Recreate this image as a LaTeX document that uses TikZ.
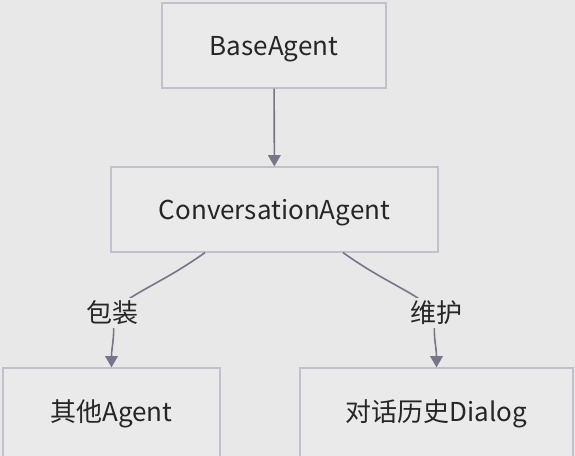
\documentclass[tikz,border=0pt]{standalone}
\usepackage{fontspec}
\setmainfont{Noto Sans CJK SC}
\usetikzlibrary{arrows.meta,calc}

\definecolor{canvas}{RGB}{232,232,232}
\definecolor{boxfill}{RGB}{234,234,234}
\definecolor{boxline}{RGB}{192,192,206}
\definecolor{edgeline}{RGB}{118,118,136}

\tikzset{every picture/.style={line width=0.75pt}}
\tikzset{
  classbox/.style={draw=boxline, fill=boxfill, line width=0.9pt, minimum height=63.75pt, inner sep=0pt,
    text height=19.5pt, text depth=4pt, font=\fontsize{19.5}{23}\selectfont, text=black!85},
  edge/.style={draw=edgeline, line width=1.2pt, -{Triangle[length=8.5pt,width=9.5pt]}},
  edgelbl/.style={fill=canvas, inner sep=2pt, font=\fontsize{19.5}{23}\selectfont, text=black!85}
}

\begin{document}
\begin{tikzpicture}[x=0.75pt,y=0.75pt,yscale=-1,xscale=1]
% canvas, set diagram at 575 x 456
\fill [canvas] (0,0) rectangle (575,456);
\useasboundingbox (0,0) rectangle (575,456);
\clip (0,0) rectangle (575,456);

% class boxes (sizes in pt = px * 0.75)
\node [classbox, minimum width=168pt] (base) at (274,45.5) {BaseAgent};
\node [classbox, minimum width=245.25pt] (conv) at (274.5,209.5) {ConversationAgent};
\node [classbox, minimum width=162.75pt, minimum height=67.5pt, text height=17pt] (other) at (111.5,413) {其他Agent};
\node [classbox, minimum width=204.75pt, minimum height=67.5pt, text height=17pt] (dialog) at (436.5,413) {对话历史Dialog};

% label points
\coordinate (wrapPt) at (112,313);
\coordinate (keepPt) at (436,313);

% connectors
\draw [edge] (base) -- (conv);
\draw [edge] ($(conv.south)+(-69.5,0)$) .. controls +(-45,32) and +(18,-20) .. (wrapPt) node [edgelbl] (wrapLbl) {包装}
  .. controls +(4,22) and +(0,-22) .. (other.north);
\draw [edge] ($(conv.south)+(68.5,0)$) .. controls +(45,32) and +(-18,-20) .. (keepPt) node [edgelbl] (keepLbl) {维护}
  .. controls +(-4,22) and +(0,-22) .. (dialog.north);

\end{tikzpicture}
\end{document}
